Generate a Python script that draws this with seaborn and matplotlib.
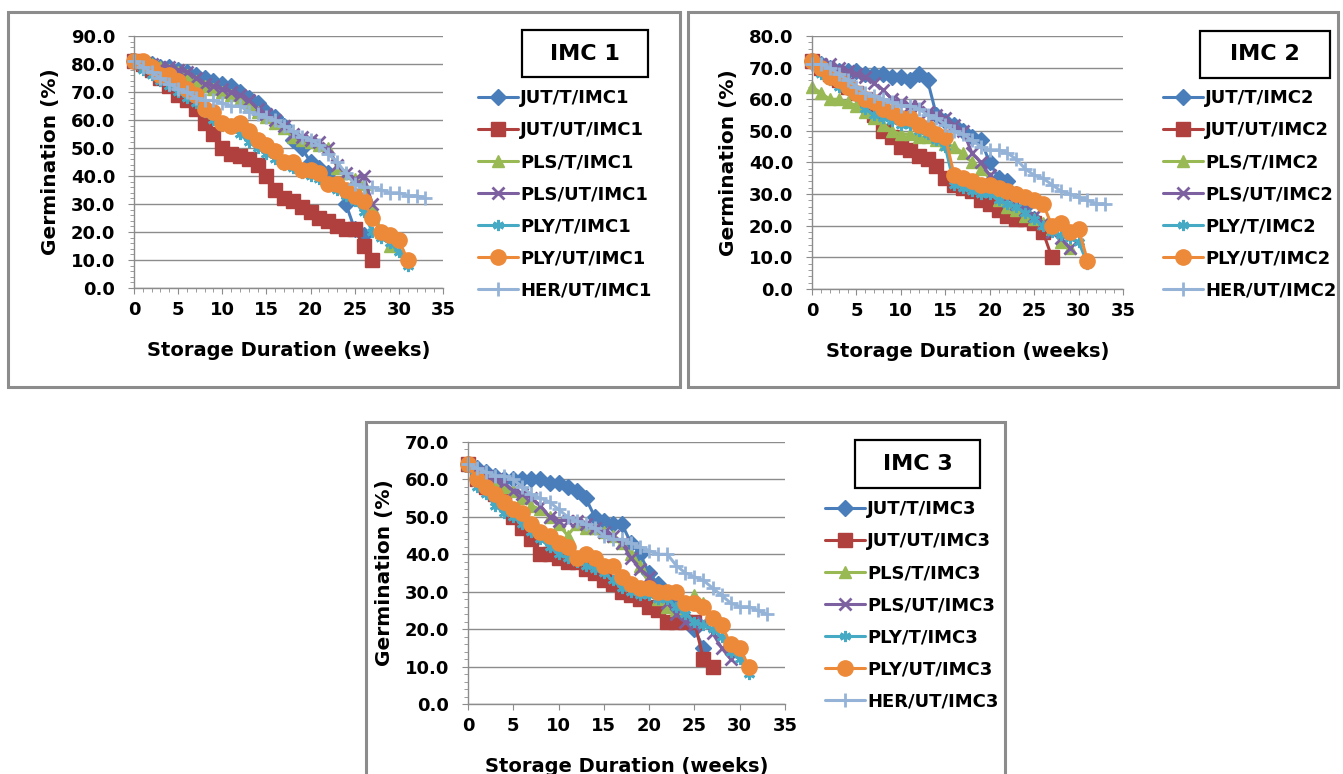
import numpy as np
import pandas as pd
import matplotlib
matplotlib.use("Agg")
import matplotlib.pyplot as plt
from matplotlib.patches import Rectangle
from matplotlib.ticker import MultipleLocator, FormatStrFormatter
import seaborn as sns

# ---- data (germination %, one value per storage week starting at week 0) ----
treatments = ["JUT/T", "JUT/UT", "PLS/T", "PLS/UT", "PLY/T", "PLY/UT", "HER/UT"]

imc1_jut_t = [81, 80, 80, 79, 79, 78, 77, 76, 75, 74, 73, 72, 70, 68, 66, 63, 61, 58, 53, 50, 45, 43, 41, 37, 30, 21, 19]
imc1_jut_ut = [81, 80, 78, 75, 72, 69, 67, 64, 59, 55, 50, 48, 47, 46, 44, 40, 35, 32, 31, 29, 27, 25, 24, 22, 21, 21, 15, 10]
imc1_pls_t = [81, 80, 80, 79, 78, 77, 76, 74, 72, 71, 70, 69, 67, 65, 63, 61, 59, 57, 54, 53, 52, 51, 50, 43, 41, 39, 37, 29, 20, 15]
imc1_pls_ut = [81, 80, 80, 79, 79, 78, 77, 75, 73, 72, 71, 70, 69, 67, 64, 62, 60, 58, 55, 54, 53, 52, 50, 44, 41, 39, 40, 30]
imc1_ply_t = [81, 78, 76, 74, 72, 70, 68, 66, 63, 60, 58, 57, 55, 52, 50, 48, 46, 44, 43, 41, 40, 39, 37, 35, 33, 31, 27, 20, 18, 16, 13, 8]
imc1_ply_ut = [81, 81, 79, 76, 76, 74, 71, 69, 64, 63, 59, 58, 59, 56, 53, 51, 49, 45, 45, 42, 42, 41, 37, 37, 35, 33, 31, 25, 20, 19, 17, 10]
imc1_her_ut = [81, 79, 77, 75, 73, 71, 70, 68, 67, 67, 66, 65, 65, 63, 62, 61, 60, 58, 56, 54, 53, 51, 48, 45, 41, 37, 36, 36, 35, 34, 34, 33, 33, 32]

imc2_jut_t = [72, 71, 70, 69, 69, 69, 68, 68, 68, 67, 67, 66, 68, 66, 55, 53, 52, 50, 48, 47, 40, 35, 34, 30, 26, 22, 19]
imc2_jut_ut = [72, 70, 68, 66, 64, 62, 60, 55, 50, 48, 45, 44, 42, 41, 39, 35, 33, 32, 31, 28, 27, 25, 23, 22, 22, 21, 18, 10]
imc2_pls_t = [64, 62, 60, 60, 59, 58, 56, 54, 52, 50, 49, 49, 48, 48, 47, 46, 45, 43, 40, 38, 35, 28, 26, 25, 23, 22, 21, 19, 15, 13]
imc2_pls_ut = [72, 71, 71, 70, 69, 68, 67, 65, 63, 60, 59, 58, 58, 56, 55, 54, 52, 50, 43, 40, 36, 32, 29, 27, 25, 23, 21, 18, 16, 13]
imc2_ply_t = [72, 68, 66, 64, 63, 61, 57, 55, 54, 53, 52, 52, 50, 49, 47, 45, 33, 32, 31, 30, 30, 28, 27, 26, 24, 22, 20, 18, 17, 16, 15, 8]
imc2_ply_ut = [72, 70, 67, 66, 64, 62, 60, 59, 57, 56, 54, 54, 52, 51, 49, 48, 36, 35, 34, 33, 33, 32, 31, 30, 29, 28, 27, 20, 21, 18, 19, 9]
imc2_her_ut = [71, 71, 70, 68, 66, 64, 62, 61, 60, 59, 58, 58, 57, 55, 54, 52, 50, 49, 47, 45, 44, 44, 43, 41, 38, 36, 35, 33, 31, 30, 29, 28, 27, 27]

imc3_jut_t = [64, 63, 62, 61, 60, 60, 60, 60, 60, 59, 59, 58, 57, 55, 50, 49, 48, 48, 43, 40, 35, 32, 28, 26, 23, 20, 15]
imc3_jut_ut = [64, 60, 58, 56, 55, 50, 47, 44, 40, 40, 39, 38, 38, 36, 35, 33, 32, 30, 29, 28, 26, 25, 22, 22, 22, 22, 12, 10]
imc3_pls_t = [64, 62, 60, 59, 58, 57, 55, 53, 52, 50, 48, 45, 48, 47, 47, 46, 45, 43, 40, 37, 32, 28, 26, 25, 27, 29, 27]
imc3_pls_ut = [64, 62, 61, 60, 59, 57, 56, 55, 53, 50, 49, 49, 49, 48, 47, 46, 45, 43, 39, 36, 34, 30, 27, 24, 22, 21, 22, 19, 15, 12]
imc3_ply_t = [64, 58, 56, 53, 51, 50, 48, 46, 44, 42, 40, 39, 38, 37, 36, 35, 33, 31, 30, 29, 29, 28, 28, 26, 24, 22, 21, 20, 18, 14, 12, 8]
imc3_ply_ut = [64, 60, 58, 56, 54, 52, 51, 48, 46, 45, 43, 42, 39, 40, 39, 37, 37, 34, 32, 31, 31, 30, 30, 30, 27, 27, 26, 23, 21, 16, 15, 10]
imc3_her_ut = [64, 63, 62, 61, 61, 60, 58, 56, 55, 54, 52, 50, 49, 48, 47, 45, 44, 44, 43, 42, 41, 40, 40, 37, 35, 34, 33, 31, 29, 27, 26, 26, 25, 24]

panels = [
    ("IMC1", "IMC 1", 90, [imc1_jut_t, imc1_jut_ut, imc1_pls_t, imc1_pls_ut, imc1_ply_t, imc1_ply_ut, imc1_her_ut]),
    ("IMC2", "IMC 2", 80, [imc2_jut_t, imc2_jut_ut, imc2_pls_t, imc2_pls_ut, imc2_ply_t, imc2_ply_ut, imc2_her_ut]),
    ("IMC3", "IMC 3", 70, [imc3_jut_t, imc3_jut_ut, imc3_pls_t, imc3_pls_ut, imc3_ply_t, imc3_ply_ut, imc3_her_ut]),
]

# ---- styles ----
colors = ["#4A7EBB", "#B0403D", "#98B954", "#7D60A0", "#46AAC5", "#ED8A3A", "#95B3D7"]
markers = ["D", "s", "^", "x", (6, 2, 0), "o", "+"]
msizes = [8, 10, 9, 8, 8, 11, 10]

sns.set_style("white")
plt.rcParams["font.family"] = ["DejaVu Sans"]
plt.rcParams["font.weight"] = "bold"
plt.rcParams["text.color"] = "black"
plt.rcParams["axes.labelcolor"] = "black"
plt.rcParams["xtick.color"] = "black"
plt.rcParams["ytick.color"] = "black"

W, H = 1343, 774
fig = plt.figure(figsize=(W / 100, H / 100), dpi=100)


def fx(px):
    return px / W


def fy(py):
    return 1 - py / H


# panel frames
for (x0, y0, x1, y1) in [(8, 12, 680, 387), (688, 12, 1338, 387), (366, 422, 1005, 790)]:
    fig.patches.append(Rectangle((fx(x0), fy(y1)), fx(x1 - x0), (y1 - y0) / H,
                                 transform=fig.transFigure, fill=False,
                                 edgecolor="#8C8C8C", linewidth=2.2))

# axes rectangles (pixel coords: left, top, right, bottom)
ax_px = [(134, 36, 443, 288), (812, 36, 1123, 289), (468, 442, 785, 704)]
box_px = [(522, 30, 648, 77), (1200, 31, 1330, 78), (855, 440, 980, 488)]
leg_px = [(478, 89), (1163, 89), (825, 500)]
minor_x = [True, True, False]

for i, (tag, title, ymax, series) in enumerate(panels):
    l, t, r, b = ax_px[i]
    ax = fig.add_axes([fx(l), fy(b), (r - l) / W, (b - t) / H])
    for k, vals in enumerate(series):
        weeks = np.arange(len(vals))
        sns.lineplot(x=weeks, y=vals, ax=ax, color=colors[k], marker=markers[k],
                     markersize=msizes[k], markeredgecolor=colors[k],
                     markeredgewidth=2 if k in (3, 4, 6) else 1,
                     linewidth=2.2, label=f"{treatments[k]}/{tag}", clip_on=False)
    ax.set_xlim(0, 35)
    ax.set_ylim(0, ymax)
    ax.xaxis.set_major_locator(MultipleLocator(5))
    if minor_x[i]:
        ax.xaxis.set_minor_locator(MultipleLocator(1))
    ax.yaxis.set_major_locator(MultipleLocator(10))
    ax.yaxis.set_minor_locator(MultipleLocator(2))
    ax.yaxis.set_major_formatter(FormatStrFormatter("%.1f"))
    ax.grid(axis="y", color="#8C8C8C", linewidth=1)
    ax.set_axisbelow(True)
    for s in ["top", "right"]:
        ax.spines[s].set_visible(False)
    for s in ["left", "bottom"]:
        ax.spines[s].set_color("#8C8C8C")
        ax.spines[s].set_linewidth(1)
    ax.tick_params(which="major", length=4.5, color="#8C8C8C", labelsize=13, labelcolor="black")
    ax.tick_params(which="minor", length=3, color="#8C8C8C")
    ax.tick_params(axis="y", which="major", pad=9)
    ax.tick_params(axis="x", which="major", pad=5)
    ax.tick_params(axis="x", which="both", bottom=True)
    ax.tick_params(axis="y", which="both", left=True)
    ax.set_xlabel("Storage Duration (weeks)", fontsize=14, fontweight="bold", labelpad=16)
    ax.set_ylabel("Germination (%)", fontsize=14.5, fontweight="bold", labelpad=8)

    lx, ly = leg_px[i]
    ax.legend(loc="upper left", bbox_to_anchor=(fx(lx), fy(ly)),
              bbox_transform=fig.transFigure, frameon=False, borderpad=0,
              borderaxespad=0, handlelength=2.2, handletextpad=0.15,
              labelspacing=0.78, prop={"size": 13, "weight": "bold"})

    bx0, by0, bx1, by1 = box_px[i]
    fig.patches.append(Rectangle((fx(bx0), fy(by1)), fx(bx1 - bx0), (by1 - by0) / H,
                                 transform=fig.transFigure, fill=False,
                                 edgecolor="black", linewidth=1.6))
    fig.text(fx((bx0 + bx1) / 2), fy((by0 + by1) / 2), title, ha="center", va="center",
             fontsize=16, fontweight="bold")

fig.savefig("out.png", dpi=100)
